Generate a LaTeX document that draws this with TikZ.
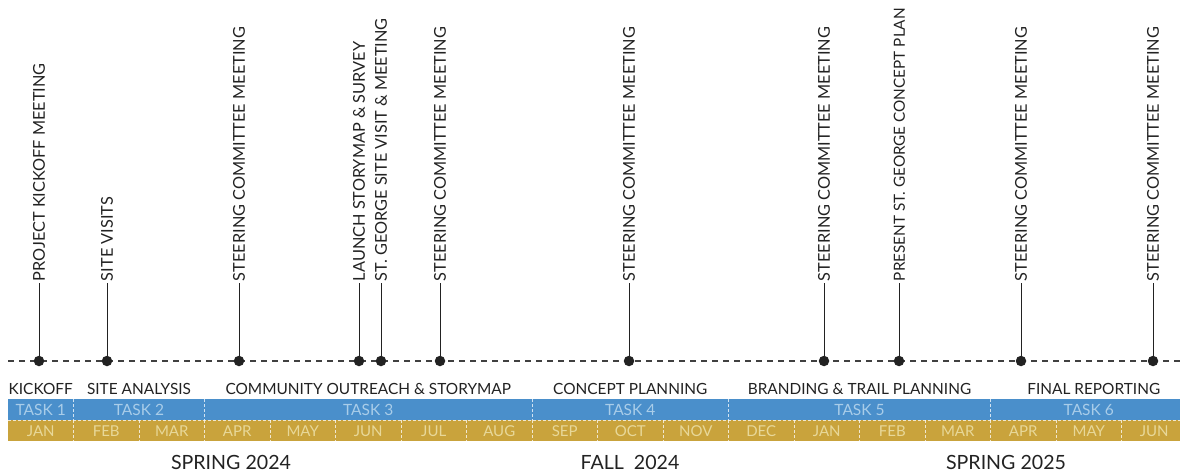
\documentclass[tikz,border=0pt]{standalone}
\usepackage{fontspec}
\setmainfont{Lato}
\usepackage{xcolor}
\usepackage{tikz}
\usetikzlibrary{positioning}

\definecolor{taskblue}{HTML}{4A8FCB}
\definecolor{monthgold}{HTML}{C9A33C}
\definecolor{tasktxt}{HTML}{A9CDE9}
\definecolor{monthtxt}{HTML}{E8D899}
\definecolor{inkgrey}{HTML}{222222}

\begin{document}
\begin{tikzpicture}[
    x=1pt, y=1pt, node distance=0pt,
    every node/.style={inner sep=0pt, outer sep=0pt, text=inkgrey},
    mon/.style={fill=monthgold, text=monthtxt, minimum width=65.5pt,
                minimum height=21pt, text height=11pt, text depth=0pt,
                font=\fontsize{15}{18}\selectfont},
    tsk/.style={fill=taskblue, text=tasktxt, minimum height=21pt,
                text height=11pt, text depth=0pt,
                font=\fontsize{15.5}{18}\selectfont},
    grp/.style={font=\fontsize{15.4}{18}\selectfont, text height=11pt, text depth=0pt},
    ssn/.style={font=\fontsize{19.6}{23}\selectfont, anchor=base},
    evt/.style={font=\fontsize{16.3}{19}\selectfont, rotate=90, anchor=west,
                text height=11.7pt, text depth=0pt, outer sep=2pt},
    dot/.style={circle, fill=inkgrey, minimum size=10.5pt},
    stem/.style={draw=inkgrey, line width=1pt},
    tl/.style={draw=black!75, line width=1.5pt, dash pattern=on 6pt off 5pt},
    sep/.style={draw=white, draw opacity=0.75, line width=0.7pt, densely dashed}
  ]
  \useasboundingbox (0,0) rectangle (1180,475);

  % months
  \node[mon, anchor=south west] (m01) at (8,34) {JAN};
  \node[mon, right=of m01] (m02) {FEB};
  \node[mon, right=of m02] (m03) {MAR};
  \node[mon, right=of m03] (m04) {APR};
  \node[mon, right=of m04] (m05) {MAY};
  \node[mon, right=of m05] (m06) {JUN};
  \node[mon, right=of m06] (m07) {JUL};
  \node[mon, right=of m07] (m08) {AUG};
  \node[mon, right=of m08] (m09) {SEP};
  \node[mon, right=of m09] (m10) {OCT};
  \node[mon, right=of m10] (m11) {NOV};
  \node[mon, right=of m11] (m12) {DEC};
  \node[mon, right=of m12] (m13) {JAN};
  \node[mon, right=of m13] (m14) {FEB};
  \node[mon, right=of m14] (m15) {MAR};
  \node[mon, right=of m15] (m16) {APR};
  \node[mon, right=of m16] (m17) {MAY};
  \node[mon, right=of m17] (m18) {JUN};

  % tasks
  \node[tsk, minimum width=65.5pt,  above=of m01] (t1) {TASK 1};
  \node[tsk, minimum width=131pt,   right=of t1]  (t2) {TASK 2};
  \node[tsk, minimum width=327.5pt, right=of t2]  (t3) {TASK 3};
  \node[tsk, minimum width=196.5pt, right=of t3]  (t4) {TASK 4};
  \node[tsk, minimum width=262pt,   right=of t4]  (t5) {TASK 5};
  \node[tsk, minimum width=196.5pt, right=of t5]  (t6) {TASK 6};

  \draw[sep] (m01.north west) -- (m18.north east);
  \draw[sep] (m01.north east) -- (m01.south east);
  \draw[sep] (m02.north east) -- (m02.south east);
  \draw[sep] (m03.north east) -- (m03.south east);
  \draw[sep] (m04.north east) -- (m04.south east);
  \draw[sep] (m05.north east) -- (m05.south east);
  \draw[sep] (m06.north east) -- (m06.south east);
  \draw[sep] (m07.north east) -- (m07.south east);
  \draw[sep] (m08.north east) -- (m08.south east);
  \draw[sep] (m09.north east) -- (m09.south east);
  \draw[sep] (m10.north east) -- (m10.south east);
  \draw[sep] (m11.north east) -- (m11.south east);
  \draw[sep] (m12.north east) -- (m12.south east);
  \draw[sep] (m13.north east) -- (m13.south east);
  \draw[sep] (m14.north east) -- (m14.south east);
  \draw[sep] (m15.north east) -- (m15.south east);
  \draw[sep] (m16.north east) -- (m16.south east);
  \draw[sep] (m17.north east) -- (m17.south east);
  \draw[sep] (t1.north east) -- (t1.south east);
  \draw[sep] (t2.north east) -- (t2.south east);
  \draw[sep] (t3.north east) -- (t3.south east);
  \draw[sep] (t4.north east) -- (t4.south east);
  \draw[sep] (t5.north east) -- (t5.south east);

  % phase names
  \node[grp, above=5pt of t1] (g1) {KICKOFF};
  \node[grp, above=5pt of t2] (g2) {SITE ANALYSIS};
  \node[grp, above=5pt of t3] (g3) {COMMUNITY OUTREACH \& STORYMAP};
  \node[grp, above=5pt of t4] (g4) {CONCEPT PLANNING};
  \node[grp, above=5pt of t5] (g5) {BRANDING \& TRAIL PLANNING};
  \node[grp, above=5pt of t6, xshift=5pt] (g6) {FINAL REPORTING};

  % seasons
  \node[ssn] (s1) at (231,5.5)  {SPRING 2024};
  \node[ssn] (s2) at (630,5.5)  {FALL\ \ 2024};
  \node[ssn] (s3) at (1006,5.5) {SPRING 2025};

  % timeline
  \coordinate (tl0) at (8,114);
  \coordinate (tl1) at (1180,114);
  \draw[tl] (tl0) -- (tl1);

  \node[dot] (k01) at (39,114)   {};
  \node[dot] (k02) at (107,114)  {};
  \node[dot] (k03) at (239,114)  {};
  \node[dot] (k04) at (359,114)  {};
  \node[dot] (k05) at (381,114)  {};
  \node[dot] (k06) at (440,114)  {};
  \node[dot] (k07) at (629,114)  {};
  \node[dot] (k08) at (824,114)  {};
  \node[dot] (k09) at (899,114)  {};
  \node[dot] (k10) at (1021,114) {};
  \node[dot] (k11) at (1153,114) {};

  \node[evt] (e01) at (39,192)   {PROJECT KICKOFF MEETING};
  \node[evt] (e02) at (107,192)  {SITE VISITS};
  \node[evt] (e03) at (239,192)  {STEERING COMMITTEE MEETING};
  \node[evt] (e04) at (359,192)  {LAUNCH STORYMAP \& SURVEY};
  \node[evt] (e05) at (381,192)  {ST. GEORGE SITE VISIT \& MEETING};
  \node[evt] (e06) at (440,192)  {STEERING COMMITTEE MEETING};
  \node[evt] (e07) at (629,192)  {STEERING COMMITTEE MEETING};
  \node[evt] (e08) at (824,192)  {STEERING COMMITTEE MEETING};
  \node[evt, font=\fontsize{15.3}{18}\selectfont] (e09) at (899,192) {PRESENT ST. GEORGE CONCEPT PLAN};
  \node[evt] (e10) at (1021,192) {STEERING COMMITTEE MEETING};
  \node[evt] (e11) at (1153,192) {STEERING COMMITTEE MEETING};

  \draw[stem] (k01) -- (e01);
  \draw[stem] (k02) -- (e02);
  \draw[stem] (k03) -- (e03);
  \draw[stem] (k04) -- (e04);
  \draw[stem] (k05) -- (e05);
  \draw[stem] (k06) -- (e06);
  \draw[stem] (k07) -- (e07);
  \draw[stem] (k08) -- (e08);
  \draw[stem] (k09) -- (e09);
  \draw[stem] (k10) -- (e10);
  \draw[stem] (k11) -- (e11);
\end{tikzpicture}
\end{document}
